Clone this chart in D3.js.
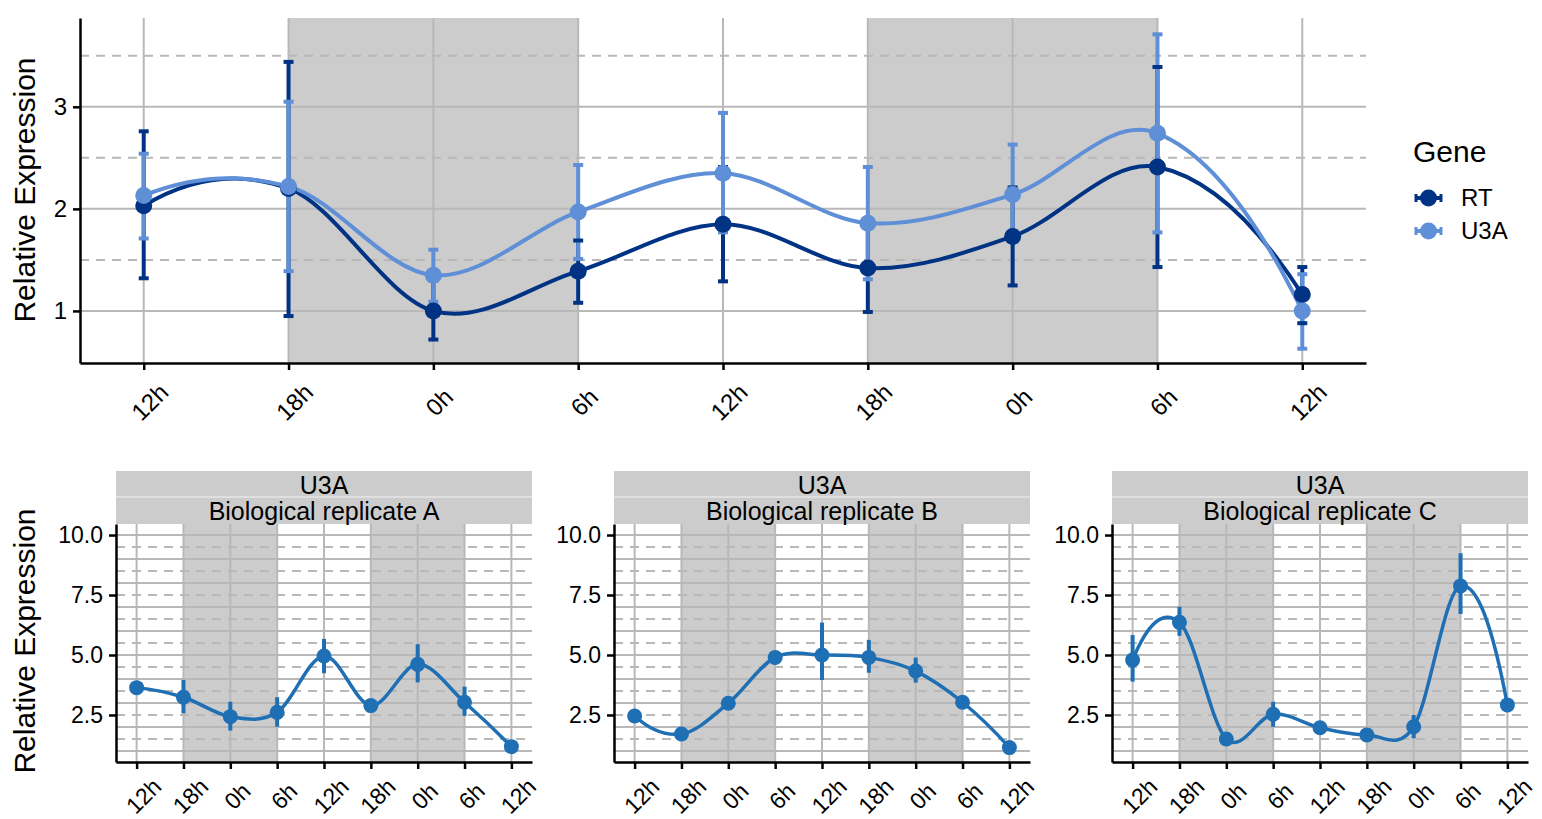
<!DOCTYPE html>
<html>
<head>
<meta charset="utf-8">
<script src="https://cdn.jsdelivr.net/npm/d3@7"></script>
<style>
  html, body { margin: 0; padding: 0; background: #fff; }
  svg { display: block; font-family: "Liberation Sans", Arial, sans-serif; }
</style>
</head>
<body>
<svg id="chart" width="1542" height="819"></svg>
<script>
// ---------------- data ----------------
const times = ["12h", "18h", "0h", "6h", "12h", "18h", "0h", "6h", "12h"];
const nightStart = [1, 5];
const nightEnd = [3, 7];

const genes = ["RT", "U3A"];
const rtMean = [2.03, 2.20, 1.00, 1.39, 1.85, 1.42, 1.73, 2.41, 1.16];
const rtLow  = [1.32, 0.95, 0.72, 1.08, 1.29, 0.99, 1.25, 1.43, 0.88];
const rtHigh = [2.76, 3.44, 1.30, 1.69, 2.41, 1.85, 2.21, 3.39, 1.43];
const u3aMean = [2.13, 2.22, 1.35, 1.97, 2.35, 1.86, 2.14, 2.74, 1.00];
const u3aLow  = [1.71, 1.39, 1.09, 1.51, 1.77, 1.31, 1.68, 1.77, 0.63];
const u3aHigh = [2.54, 3.05, 1.60, 2.43, 2.94, 2.41, 2.63, 3.71, 1.36];

const topTicks = [1, 2, 3];
const bottomTicks = [2.5, 5.0, 7.5, 10.0];

const replicates = ["Biological replicate A", "Biological replicate B", "Biological replicate C"];
const repAMean = [3.64, 3.24, 2.43, 2.61, 4.96, 2.89, 4.61, 3.03, 1.18];
const repALow  = [3.60, 2.57, 1.85, 2.01, 4.24, 2.85, 3.86, 2.46, 1.14];
const repAHigh = [3.68, 3.96, 3.05, 3.24, 5.67, 2.93, 5.45, 3.68, 1.22];
const repBMean = [2.46, 1.71, 2.99, 4.90, 5.00, 4.90, 4.33, 3.03, 1.14];
const repBLow  = [2.42, 1.67, 2.95, 4.86, 3.96, 4.26, 3.85, 2.99, 1.10];
const repBHigh = [2.50, 1.75, 3.03, 4.94, 6.35, 5.63, 4.89, 3.07, 1.18];
const repCMean = [4.79, 6.36, 1.50, 2.53, 1.97, 1.67, 2.01, 7.88, 2.92];
const repCLow  = [3.89, 5.80, 1.46, 2.01, 1.93, 1.63, 1.53, 6.71, 2.88];
const repCHigh = [5.83, 7.01, 1.54, 3.05, 2.01, 1.71, 2.50, 9.24, 2.96];

// ---------------- style ----------------
const colRT = "#003383";
const colU3A = "#5F8FD6";
const colRep = "#1F6FB4";
const shade = "#CCCCCC";
const gridCol = "#B8B8B8";

// interpolating cubic (Catmull-Rom tangents, parabolic end tangents)
function SmoothCurve(context) { this._context = context; }
SmoothCurve.prototype = {
  areaStart() { this._line = 0; },
  areaEnd() { this._line = NaN; },
  lineStart() { this._xs = []; this._ys = []; },
  point(x, y) { this._xs.push(+x); this._ys.push(+y); },
  lineEnd() {
    const xs = this._xs, ys = this._ys, n = xs.length, c = this._context;
    if (!n) return;
    c.moveTo(xs[0], ys[0]);
    if (n < 3) { for (let i = 1; i < n; i++) c.lineTo(xs[i], ys[i]); return; }
    const m = ys.map((v, i) => {
      if (i === 0) return (-3 * ys[0] + 4 * ys[1] - ys[2]) / 2;
      if (i === n - 1) return (ys[n - 3] - 4 * ys[n - 2] + 3 * ys[n - 1]) / 2;
      return (ys[i + 1] - ys[i - 1]) / 2;
    });
    for (let i = 0; i < n - 1; i++) {
      const h = xs[i + 1] - xs[i];
      c.bezierCurveTo(xs[i] + h / 3, ys[i] + m[i] / 3, xs[i + 1] - h / 3, ys[i + 1] - m[i + 1] / 3, xs[i + 1], ys[i + 1]);
    }
  }
};
const curveSmooth = ctx => new SmoothCurve(ctx);

const svg = d3.select("#chart");
const idx = times.map((d, i) => i);

function drawGrid(g, x, y, yLo, yHi) {
  nightStart.forEach((s, k) => {
    g.append("rect")
      .attr("x", x(s)).attr("width", x(nightEnd[k]) - x(s))
      .attr("y", y.range()[1]).attr("height", y.range()[0] - y.range()[1])
      .attr("fill", shade);
  });
  const hs = [];
  for (let v = 1; v <= yHi + 1e-9; v += 0.5) hs.push(v);
  hs.forEach(v => {
    const solid = Math.abs(v - Math.round(v)) < 1e-9;
    g.append("line")
      .attr("x1", x.range()[0]).attr("x2", x.range()[1])
      .attr("y1", y(v)).attr("y2", y(v))
      .attr("stroke", gridCol).attr("stroke-width", 2)
      .attr("stroke-dasharray", solid ? null : "9,7");
  });
  idx.forEach(i => {
    g.append("line")
      .attr("x1", x(i)).attr("x2", x(i))
      .attr("y1", y.range()[0]).attr("y2", y.range()[1])
      .attr("stroke", gridCol).attr("stroke-width", 2);
  });
}

function drawAxes(g, x, y, ticks, fmt, labelDx, labelY, fs) {
  const xAxis = d3.axisBottom(x).tickValues(idx).tickFormat(() => "").tickSize(7).tickSizeOuter(0);
  const gx = g.append("g").attr("transform", `translate(0,${y.range()[0]})`).call(xAxis);
  gx.select(".domain").attr("stroke", "#000").attr("stroke-width", 2.5);
  gx.selectAll(".tick line").attr("stroke", "#000").attr("stroke-width", 2.5);
  idx.forEach(i => {
    g.append("text")
      .attr("transform", `translate(${x(i) + labelDx},${labelY}) rotate(-45)`)
      .attr("text-anchor", "middle").attr("dy", "0.35em")
      .attr("font-size", fs).attr("fill", "#000")
      .text(times[i]);
  });
  const yAxis = d3.axisLeft(y).tickValues(ticks).tickFormat(fmt).tickSize(7).tickSizeOuter(0).tickPadding(6);
  const gy = g.append("g").attr("transform", `translate(${x.range()[0]},0)`).call(yAxis);
  gy.select(".domain").attr("stroke", "#000").attr("stroke-width", 2.5);
  gy.selectAll(".tick line").attr("stroke", "#000").attr("stroke-width", 2.5);
  gy.selectAll(".tick text").attr("font-size", fs).attr("fill", "#000").attr("font-family", "Liberation Sans, Arial, sans-serif");
}

// ---------------- top panel ----------------
{
  const x = d3.scaleLinear().domain([-0.44, 8.44]).range([80, 1366]);
  const y = d3.scaleLinear().domain([0.49, 3.87]).range([363, 18]);
  const g = svg.append("g");
  drawGrid(g, x, y, 0.49, 3.87);

  const series = [
    { name: "RT", col: colRT, mean: rtMean, lo: rtLow, hi: rtHigh },
    { name: "U3A", col: colU3A, mean: u3aMean, lo: u3aLow, hi: u3aHigh }
  ];
  const capW = 5;
  series.forEach(s => {
    idx.forEach(i => {
      g.append("line").attr("x1", x(i)).attr("x2", x(i))
        .attr("y1", y(s.lo[i])).attr("y2", y(s.hi[i]))
        .attr("stroke", s.col).attr("stroke-width", 4);
    });
  });
  [series[1], series[0]].forEach(s => {
    idx.forEach(i => {
      [s.lo[i], s.hi[i]].forEach(v => {
        g.append("line").attr("x1", x(i) - capW).attr("x2", x(i) + capW)
          .attr("y1", y(v)).attr("y2", y(v))
          .attr("stroke", s.col).attr("stroke-width", 4);
      });
    });
  });
  series.forEach(s => {
    const l = d3.line().x(i => x(i)).y(i => y(s.mean[i])).curve(curveSmooth);
    g.append("path").attr("d", l(idx)).attr("fill", "none")
      .attr("stroke", s.col).attr("stroke-width", 4);
  });
  series.forEach(s => {
    idx.forEach(i => {
      g.append("circle").attr("cx", x(i)).attr("cy", y(s.mean[i])).attr("r", 8.5).attr("fill", s.col);
    });
  });
  drawAxes(g, x, y, topTicks, d3.format("d"), 6, 402, 24);

  svg.append("text")
    .attr("transform", "translate(35,190) rotate(-90)")
    .attr("text-anchor", "middle").attr("font-size", 30).attr("fill", "#000")
    .text("Relative Expression");

  const lg = svg.append("g");
  lg.append("text").attr("x", 1413).attr("y", 162).attr("font-size", 30).attr("fill", "#000").text("Gene");
  series.forEach((s, k) => {
    const cy = 198 + k * 33;
    lg.append("line").attr("x1", 1415).attr("x2", 1442).attr("y1", cy).attr("y2", cy)
      .attr("stroke", s.col).attr("stroke-width", 4);
    [1416, 1441].forEach(xx => {
      lg.append("line").attr("x1", xx).attr("x2", xx).attr("y1", cy - 4).attr("y2", cy + 4)
        .attr("stroke", s.col).attr("stroke-width", 3);
    });
    lg.append("circle").attr("cx", 1428.5).attr("cy", cy).attr("r", 8.5).attr("fill", s.col);
    lg.append("text").attr("x", 1461).attr("y", cy).attr("dy", "0.35em")
      .attr("font-size", 24).attr("fill", "#000").text(s.name);
  });
}

// ---------------- bottom panels ----------------
{
  const panelLeft = [116, 614, 1112];
  const panelW = 416;
  const reps = [
    { mean: repAMean, lo: repALow, hi: repAHigh },
    { mean: repBMean, lo: repBLow, hi: repBHigh },
    { mean: repCMean, lo: repCLow, hi: repCHigh }
  ];
  const y = d3.scaleLinear().domain([0.54, 10.46]).range([762, 524]);
  reps.forEach((r, p) => {
    const x = d3.scaleLinear().domain([-0.44, 8.44]).range([panelLeft[p], panelLeft[p] + panelW]);
    const g = svg.append("g");
    drawGrid(g, x, y, 0.54, 10.46);
    g.append("rect").attr("x", panelLeft[p]).attr("y", 471).attr("width", panelW).attr("height", 25.5).attr("fill", shade);
    g.append("rect").attr("x", panelLeft[p]).attr("y", 497.5).attr("width", panelW).attr("height", 26.5).attr("fill", shade);
    g.append("line").attr("x1", panelLeft[p]).attr("x2", panelLeft[p] + panelW).attr("y1", 497).attr("y2", 497)
      .attr("stroke", "#DDDDDD").attr("stroke-width", 1.5);
    g.append("text").attr("x", panelLeft[p] + panelW / 2).attr("y", 494)
      .attr("text-anchor", "middle").attr("font-size", 25).attr("fill", "#000").text("U3A");
    g.append("text").attr("x", panelLeft[p] + panelW / 2).attr("y", 520)
      .attr("text-anchor", "middle").attr("font-size", 25).attr("fill", "#000").text(replicates[p]);

    idx.forEach(i => {
      g.append("line").attr("x1", x(i)).attr("x2", x(i))
        .attr("y1", y(r.lo[i])).attr("y2", y(r.hi[i]))
        .attr("stroke", colRep).attr("stroke-width", 4);
    });
    const l = d3.line().x(i => x(i)).y(i => y(r.mean[i])).curve(curveSmooth);
    g.append("path").attr("d", l(idx)).attr("fill", "none").attr("stroke", colRep).attr("stroke-width", 3.5);
    idx.forEach(i => {
      g.append("circle").attr("cx", x(i)).attr("cy", y(r.mean[i])).attr("r", 7.5).attr("fill", colRep);
    });
    drawAxes(g, x, y, bottomTicks, d3.format(".1f"), 7, 796, 23);
  });
  svg.append("text")
    .attr("transform", "translate(35,641) rotate(-90)")
    .attr("text-anchor", "middle").attr("font-size", 30).attr("fill", "#000")
    .text("Relative Expression");
}
</script>
</body>
</html>
